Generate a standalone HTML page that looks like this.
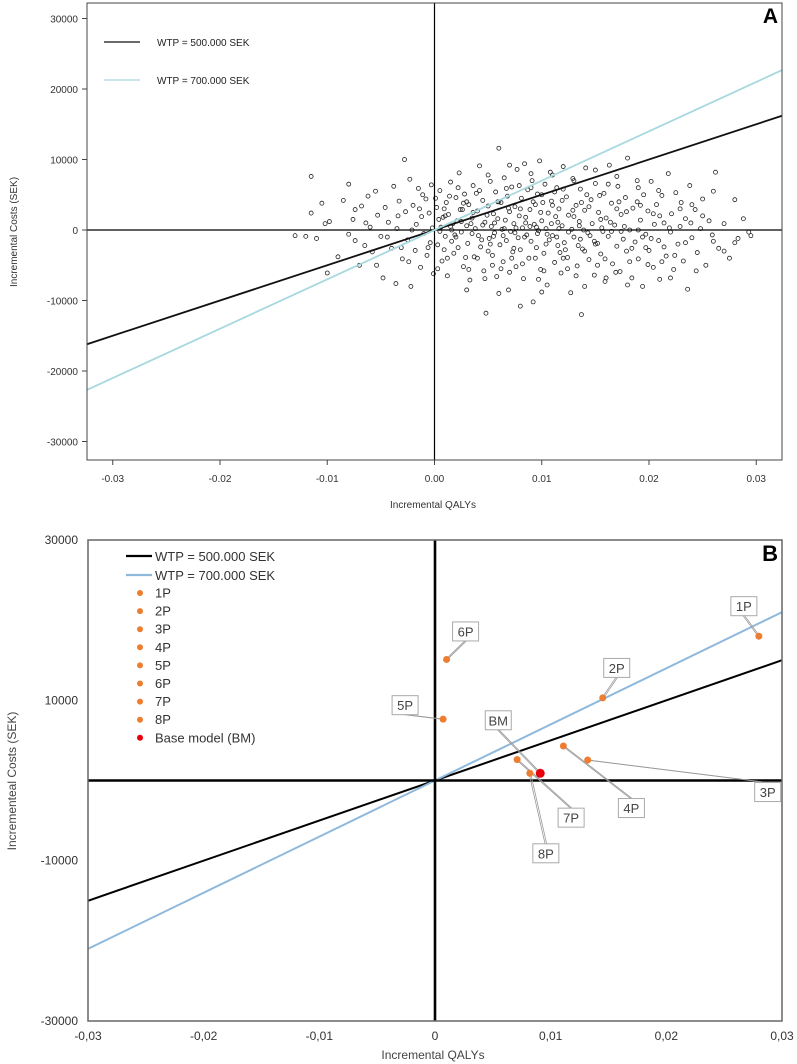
<!DOCTYPE html>
<html><head><meta charset="utf-8"><style>
body{margin:0;background:#fff;}
svg{display:block;font-family:"Liberation Sans",sans-serif;}
</style></head><body>
<svg id="chart" width="797" height="1064" viewBox="0 0 797 1064"></svg>
<script>
// ---------- Panel A data ----------
const aXTicks=[-0.03,-0.02,-0.01,0,0.01,0.02,0.03];
const aXTickLabels=["-0.03","-0.02","-0.01","0.00","0.01","0.02","0.03"];
const aYTicks=[30000,20000,10000,0,-10000,-20000,-30000];
const wtpValues=[500000,700000];
const wtpLabels=["WTP = 500.000 SEK","WTP = 700.000 SEK"];
// simulations: [QALY x1000, cost in kSEK]
const simulations=[[-13,-0.8],[-12,-0.9],[-11.5,7.6],[-11.5,2.4],[-11,-1.2],[-10.5,3.8],[-10.2,0.9],[-10,-6.1],[-9.8,1.2],[-9,-3.8],[-8.5,4.2],[-8,6.5],[-8,-0.6],[-7.6,1.5],[-7.4,2.9],[-7,-5],[-6.8,3.4],[-6.5,-2.2],[-6.2,4.8],[-6,0.4],[-5.8,-3.1],[-5.5,5.5],[-5.3,2.1],[-5,-0.9],[-4.8,-6.8],[-4.6,3.2],[-4.3,1.1],[-4,-2.6],[-3.8,6.2],[-3.6,-7.6],[-3.5,0.2],[-3.3,4.1],[-3,-4.1],[-2.8,10],[-2.7,2.6],[-2.5,-1.4],[-2.3,7.2],[-2.2,-8.0],[-2,3.5],[-1.8,-2.9],[-1.7,0.8],[-1.5,5.9],[-1.3,-5.3],[-1.2,1.9],[-1,-0.5],[-0.8,4.4],[-0.7,-3.6],[-0.5,2.4],[-0.4,-1.8],[-0.3,6.4],[-0.2,0.3],[-0.1,-6.2],
[0.2,3.2],[0.3,-2.1],[0.5,5.6],[0.6,0.4],[0.7,-4.4],[0.8,1.8],[1,-0.9],[1.1,3.9],[1.2,-6.5],[1.3,2.2],[1.5,6.8],[1.6,-1.6],[1.7,0.9],[1.8,-3.3],[2,4.6],[2.1,1.3],[2.2,-2.5],[2.3,8.1],[2.5,-0.3],[2.6,2.9],[2.7,-5.2],[2.8,5.1],[3,0.6],[3.1,-1.9],[3.2,3.6],[3.3,-7.1],[3.5,1.7],[3.6,6.3],[3.7,-3.8],[3.8,0.2],[4,2.7],[4.1,-0.8],[4.2,9.1],[4.3,-2.4],[4.5,4.2],[4.6,-5.8],[4.7,1.1],[4.8,-11.8],[5,3.4],[5.1,-1.2],[5.2,6.9],[5.3,0.5],[5.4,-3.6],[5.5,2.3],[5.6,-0.4],[5.7,5.4],[5.8,-6.6],[5.9,1.6],[6,11.6],[6.1,-2.1],[6.2,3.9],[6.3,0.1],[6.4,-4.5],[6.5,7.4],[6.6,1.4],[6.7,-1.5],[6.8,4.8],[6.9,-8.5],[7,2.6],[7.1,-0.2],[7.2,6.1],[7.3,-3.1],[7.4,0.9],[7.5,3.3],[7.6,-5.2],[7.7,8.6],[7.8,-1.1],[7.9,2.0],[8,-2.8],[8.1,4.5],[8.2,0.3],[8.3,-6.9],[8.4,9.4],[8.5,1.8],[8.6,-0.7],[8.7,5.7],[8.8,-4.0],[8.9,2.9],[9,-1.6],[9.1,7.0],[9.2,-10.2],[9.3,0.8],[9.4,3.6],[9.5,-2.5],[9.6,5.1],[9.7,-0.1],[9.8,9.8],[9.9,-5.6],[10,1.3],[10.1,3.9],[10.2,-3.3],[10.3,6.5],[10.4,0.2],[10.5,-7.8],[10.6,2.4],[10.7,-1.4],[10.8,8.2],[10.9,4.1],[11,-0.8],[11.2,-4.6],[11.3,1.9],[11.4,6.0],[11.5,-2.2],[11.6,3.0],[11.8,-6.1],[11.9,0.6],[12,9.0],[12.1,-1.8],[12.3,4.7],[12.4,-3.9],[12.5,2.1],[12.7,-8.9],[12.8,0.1],[12.9,7.3],[13,-1.0],[13.2,3.5],[13.3,-5.1],[13.5,1.2],[13.6,5.8],[13.7,-12],[13.8,-2.7],[14,2.8],[14.1,8.8],[14.3,-0.4],[14.4,-4.2],[14.6,4.3],[14.7,0.9],[14.9,-6.4],[15,6.6],[15.2,-1.9],[15.3,2.5],[15.5,-3.4],[15.6,0.3],[15.8,5.2],[15.9,-7.3],[16,1.7],[16.2,-0.9],[16.3,9.2],[16.5,3.8],[16.6,-4.8],[16.8,0.7],[17,-2.3],[17.1,6.2],[17.3,-5.9],[17.4,2.2],[17.6,-1.3],[17.8,4.6],[17.9,-3.0],[18,10.2],[18.2,0.0],[18.4,-6.8],[18.5,3.1],[18.7,-1.7],[18.9,7.0],[19,-4.1],[19.2,1.4],[19.4,-8.0],[19.5,5.0],[19.7,-0.6],[19.9,2.7],[20,-2.9],[20.2,6.9],[20.4,-5.3],[20.5,0.8],[20.7,3.6],[20.9,-1.5],[21,-7.0],[21.2,4.9],[21.4,1.0],[21.6,-3.7],[21.8,8.0],[22,-0.3],[22.1,2.3],[22.3,-5.6],[22.5,5.3],[22.7,-2.0],[22.9,0.5],[23,3.9],[23.2,-4.4],[23.4,1.6],[23.6,-8.4],[23.8,6.3],[24,-1.1],[24.3,2.9],[24.5,-3.2],[24.8,0.2],[25,4.4],[25.3,-5.0],[25.6,1.3],[25.9,-0.7],[26.2,8.2],[26.5,-2.6],[27,0.9],[27.5,-4.0],[28,4.3],[28.3,-1.2],[28.8,1.6],[29.3,-0.3],[29.5,-0.8],
[0.5,-0.2],[1.5,0.5],[2.5,1.2],[3.5,-0.5],[4.5,0.7],[5.5,-0.9],[6.5,0.2],[7.5,-0.4],[8.5,1.0],[9.5,0.4],[10.5,-0.6],[11.5,1.1],[12.5,-0.3],[13.5,0.6],[14.5,-0.8],[15.5,1.5],[16.5,-0.2],[6,4],[8,3],[10,5],[12,-4],[14,-3],[4,-4],[3,4],[7,-6],[9,6],[11,3.5],[13,1.9],[15,-2],[17,3],[19,0],[21,2],[2,-1],[1,2],[5,-3],
[0.4,1.5],[0.9,-2.8],[1.4,4.8],[1.9,-0.7],[2.4,2.9],[2.9,-3.9],[3.4,0.9],[3.9,5.2],[4.4,-1.4],[4.9,2.1],[5.4,-5.0],[5.9,4.0],[6.4,-0.8],[6.9,3.1],[7.4,-2.6],[7.9,6.3],[8.4,-1.0],[8.9,0.5],[9.4,-4.0],[9.9,2.5],[10.4,-2.0],[10.9,0.9],[11.4,-1.0],[11.9,4.2],[12.4,-5.5],[12.9,2.8],[13.4,-2.2],[13.9,0.0],[14.4,3.3],[14.9,-1.6],[15.4,4.9],[15.9,-4.1],[16.4,1.1],[16.9,-6.0],[17.4,-0.2],[17.9,2.6],[18.4,-2.6],[18.9,4.0],[19.4,-1.0],[19.9,-4.9],[20.4,2.3],[20.9,5.6],[21.4,-2.4],[21.9,0.3],[22.4,-3.6],[22.9,3.0],[23.4,-1.8],[23.9,1.0],[24.4,-5.8],[25,2.0],[26,-1.6],[27,-3.0],[1.2,-4.0],[2.2,6.0],[3.2,-5.6],[4.2,5.6],[5.2,-2.0],[6.2,-5.5],[7.2,-4.0],[8.2,-4.8],[9.2,4.0],[10.2,-5.8],[11.2,5.4],[12.2,-2.8],[13.2,-6.5],[14.2,5.0],[15.2,-5.0],[16.2,6.5],[17.2,4.0],[18.2,-4.5],[19.2,3.5],[20.2,-1.2],[21.2,-4.5],[-1.4,3.0],[-2.4,-4.5],[-3.4,2.0],[-4.4,-1.0],[-5.4,-5.0],[-6.4,1.0],[-7.4,-1.5],[-0.6,-2.5],[-1.1,5.0],[-2.1,0.0],[-3.1,-2.5],[0.1,4.5],[0.3,-5.5],[5,7.8],[7,9.2],[9,8.0],[11,7.8],[13,7.0],[15,8.5],[17,7.6],[19,6.0],[3,-8.5],[6,-9.0],[10,-8.8],[14,-8.0],[18,-7.8],[22,-6.8],[8,-10.8],[16,-6.8],[24,3.6],[26,5.5],[28,-1.8],[12,5.8],[11.7,-3.2],[6.7,5.9],[4.7,-6.9],[2.7,3.8],[9.7,-7.0],[13.7,3.9],[15.7,-0.2],[17.7,0.5],[19.7,-2.5],[3.6,2.5],[5.6,1.0],[7.6,0.3],[9.6,-0.5],[11.6,0.2],[13.6,-1.3],[1.6,0.0],[0.9,3.0]];

// ---------- Panel B data ----------
const bXTicks=[-0.03,-0.02,-0.01,0,0.01,0.02,0.03];
const bXTickLabels=["-0,03","-0,02","-0,01","0","0,01","0,02","0,03"];
const bYTicks=[30000,10000,-10000,-30000];
const scenarioNames=["1P","2P","3P","4P","5P","6P","7P","8P","BM"];
const scenarioQalys=[0.0280,0.0145,0.0132,0.0111,0.0007,0.0010,0.0071,0.0082,0.0091];
const scenarioCosts=[18000,10300,2550,4300,7650,15100,2600,900,900];
const labelOffsets=[[-15,-30],[14,-30],[180,32],[68,62],[-38,-14],[19,-28],[54,58],[16,80],[-42,-53]];
const legendNames=["1P","2P","3P","4P","5P","6P","7P","8P","Base model (BM)"];

const NS="http://www.w3.org/2000/svg";
const svg=document.getElementById('chart');
function mk(tag,attrs,parent,text){const e=document.createElementNS(NS,tag);for(const k in attrs)e.setAttribute(k,attrs[k]);if(text!==undefined)e.textContent=text;(parent||svg).appendChild(e);return e;}

// ===== Panel A =====
const A={l:87,r:782,t:3,b:460,xmin:-0.0324,xmax:0.0324};
const xA=q=>A.l+(q-A.xmin)/(A.xmax-A.xmin)*(A.r-A.l);
const yA=c=>230-c*0.00705;
const gA=mk('g',{});


mk('defs',{}).innerHTML='<clipPath id="ca"><rect x="87" y="3" width="695" height="457"/></clipPath><clipPath id="cb"><rect x="88" y="540" width="694" height="481"/></clipPath>';
const sc=mk('g',{'clip-path':'url(#ca)'},gA);


simulations.forEach(p=>{
  const c=mk('circle',{cx:xA(p[0]/1000),cy:yA(p[1]*1000),r:2,fill:'none',stroke:'#222','stroke-width':0.8},sc);
  
  
});
let e=mk('line',{x1:xA(0),x2:xA(0),y1:A.t,y2:A.b,stroke:'#000','stroke-width':1.2},gA);

e=mk('line',{x1:A.l,x2:A.r,y1:yA(0),y2:yA(0),stroke:'#000','stroke-width':1.2},gA);

const wtpColA=['#111','#a8d8e0'];
wtpValues.forEach((w,i)=>{
  const l=mk('line',{x1:A.l,y1:yA(w*A.xmin),x2:A.r,y2:yA(w*A.xmax),stroke:wtpColA[i],'stroke-width':1.8,'clip-path':'url(#ca)'},gA);
  
  
  const ll=mk('line',{x1:104,x2:140,y1:42+38*i,y2:42+38*i,stroke:wtpColA[i],'stroke-width':1.2},gA);
  
  
  const t=mk('text',{x:157,y:46+38*i,'font-size':10,fill:'#222'},gA,wtpLabels[i]);
  
  
});
e=mk('rect',{x:A.l,y:A.t,width:A.r-A.l,height:A.b-A.t,fill:'none',stroke:'#444','stroke-width':1},gA);

aXTicks.forEach((v,i)=>{
  mk('line',{x1:xA(v),x2:xA(v),y1:A.b,y2:A.b+5,stroke:'#444'},gA);
  const t=mk('text',{x:xA(v),y:A.b+22,'font-size':10,'text-anchor':'middle',fill:'#333'},gA,aXTickLabels[i]);
  
});
aYTicks.forEach(v=>{
  mk('line',{x1:A.l-5,x2:A.l,y1:yA(v),y2:yA(v),stroke:'#444'},gA);
  const t=mk('text',{x:A.l-9,y:yA(v)+4,'font-size':10,'text-anchor':'end',fill:'#333'},gA,String(v));
  
});
e=mk('text',{x:433,y:508,'font-size':10,'text-anchor':'middle',fill:'#333'},gA,'Incremental QALYs');

e=mk('text',{x:0,y:0,'font-size':10,'text-anchor':'middle',fill:'#333',transform:'translate(17,232) rotate(-90)'},gA,'Incremental Costs (SEK)');

e=mk('text',{x:778,y:23,'font-size':21,'font-weight':'bold','text-anchor':'end'},gA,'A');


// ===== Panel B =====
const B={l:88,r:782,t:540,b:1021,xmin:-0.03,xmax:0.03,ymin:-30000,ymax:30000};
const xB=q=>B.l+(q-B.xmin)/(B.xmax-B.xmin)*(B.r-B.l);
const yB=c=>B.b-(c-B.ymin)/(B.ymax-B.ymin)*(B.b-B.t);
const gB=mk('g',{});


const wtpColB=['#000','#8fb9dc'];
wtpValues.forEach((w,i)=>{
  const l=mk('line',{x1:B.l,y1:yB(w*B.xmin),x2:B.r,y2:yB(w*B.xmax),stroke:wtpColB[i],'stroke-width':2,'clip-path':'url(#cb)'},gB);
  
  
});
e=mk('line',{x1:xB(0),x2:xB(0),y1:B.t,y2:B.b,stroke:'#000','stroke-width':2.6},gB);

e=mk('line',{x1:B.l,x2:B.r,y1:yB(0),y2:yB(0),stroke:'#000','stroke-width':2.6},gB);

e=mk('rect',{x:B.l,y:B.t,width:B.r-B.l,height:B.b-B.t,fill:'none',stroke:'#666','stroke-width':1.5},gB);

scenarioNames.forEach((n,i)=>{
  const px=xB(scenarioQalys[i]),py=yB(scenarioCosts[i]);
  const lx=px+labelOffsets[i][0],ly=py+labelOffsets[i][1];
  const w=n.length*9+8,h=19;
  const ex=lx,ey=ly+(labelOffsets[i][1]<0?h/2:-h/2);
  mk('line',{x1:px-0.8,y1:py,x2:ex-0.8,y2:ey,stroke:'#999','stroke-width':0.8},gB);
  mk('line',{x1:px+0.8,y1:py,x2:ex+0.8,y2:ey,stroke:'#999','stroke-width':0.8},gB);
  mk('rect',{x:lx-w/2,y:ly-h/2,width:w,height:h,fill:'#fff',stroke:'#aaa','stroke-width':1},gB);
  const t=mk('text',{x:lx,y:ly+5,'font-size':13,'text-anchor':'middle',fill:'#444'},gB,n);
  
  
});
scenarioNames.forEach((n,i)=>{
  const c=mk('circle',{cx:xB(scenarioQalys[i]),cy:yB(scenarioCosts[i]),r:n==='BM'?4.5:3.5,fill:n==='BM'?'#e8000b':'#ed7d31'},gB);
  
  
});
wtpLabels.forEach((s,i)=>{
  mk('line',{x1:126,x2:152,y1:556+19*i,y2:556+19*i,stroke:wtpColB[i],'stroke-width':2.2},gB);
  const t=mk('text',{x:155,y:561+19*i,'font-size':13,fill:'#333'},gB,s);
  
  
});
legendNames.forEach((s,i)=>{
  const y=593+18.1*i;
  mk('circle',{cx:140,cy:y,r:3,fill:i===8?'#e8000b':'#ed7d31'},gB);
  const t=mk('text',{x:155,y:y+4.5,'font-size':13,fill:'#333'},gB,s);
  
  
});
bXTicks.forEach((v,i)=>{
  const t=mk('text',{x:xB(v),y:1040,'font-size':12,'text-anchor':'middle',fill:'#333'},gB,bXTickLabels[i]);
  
});
bYTicks.forEach(v=>{
  const t=mk('text',{x:78,y:yB(v)+4,'font-size':12,'text-anchor':'end',fill:'#333'},gB,String(v));
  
});
e=mk('text',{x:433,y:1059,'font-size':12,'text-anchor':'middle',fill:'#444'},gB,'Incremental QALYs');

e=mk('text',{x:0,y:0,'font-size':12,'text-anchor':'middle',fill:'#444',transform:'translate(16,781) rotate(-90)'},gB,'Incrementeal Costs (SEK)');

e=mk('text',{x:778,y:561,'font-size':22,'font-weight':'bold','text-anchor':'end'},gB,'B');

</script>
</body></html>
